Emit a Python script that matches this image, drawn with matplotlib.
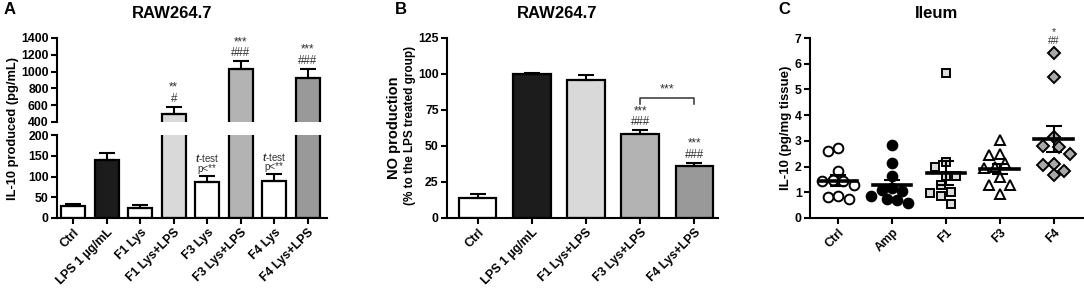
import numpy as np
import matplotlib
matplotlib.use("Agg")
import matplotlib.pyplot as plt

plt.rcParams["font.family"] = ["Liberation Sans", "DejaVu Sans"]
plt.rcParams["font.weight"] = "bold"
plt.rcParams["axes.labelweight"] = "bold"
plt.rcParams["axes.linewidth"] = 1.5
plt.rcParams["mathtext.fontset"] = "custom"
plt.rcParams["mathtext.rm"] = "Liberation Sans"
plt.rcParams["mathtext.it"] = "Liberation Sans:italic"

# Panel A - IL-10 in RAW264.7
a_groups = ["Ctrl", "LPS 1 \u00b5g/mL", "F1 Lys", "F1 Lys+LPS",
            "F3 Lys", "F3 Lys+LPS", "F4 Lys", "F4 Lys+LPS"]
a_means = [28, 140, 25, 495, 87, 1030, 90, 920]
a_errs = [5, 17, 6, 85, 15, 95, 15, 115]
a_colors = ["white", "#1c1c1c", "white", "#d9d9d9",
            "white", "#b3b3b3", "white", "#999999"]
a_marks = ["", "", "", "**\n#", "$\\it{t}$-test\np<**", "***\n###",
           "$\\it{t}$-test\np<**", "***\n###"]

# Panel B - NO production
b_groups = ["Ctrl", "LPS 1 \u00b5g/mL", "F1 Lys+LPS", "F3 Lys+LPS", "F4 Lys+LPS"]
b_means = [14, 100, 96, 58, 36]
b_errs = [3, 0.6, 3, 2.8, 2.2]
b_colors = ["white", "#1c1c1c", "#d9d9d9", "#b3b3b3", "#999999"]
b_marks = ["", "", "", "***\n###", "***\n###"]
b_bracket = (3, 4, 83)

# Panel C - Ileum IL-10
c_groups = ["Ctrl", "Amp", "F1", "F3", "F4"]
c_values = [
    [2.72, 2.62, 1.83, 1.48, 1.45, 1.42, 1.3, 0.86, 0.74, 0.83],
    [2.82, 2.15, 1.63, 1.15, 1.05, 1.1, 0.86, 0.75, 0.7, 0.6],
    [5.62, 2.18, 2.0, 1.63, 1.63, 1.28, 1.0, 0.97, 0.86, 0.54],
    [3.03, 2.5, 2.45, 2.13, 1.97, 1.95, 1.6, 1.28, 1.28, 0.93],
    [6.42, 5.48, 3.14, 2.8, 2.78, 2.48, 2.1, 2.08, 1.84, 1.67],
]
c_means = [1.45, 1.27, 1.75, 1.9, 3.07]
c_sems = [0.22, 0.22, 0.45, 0.2, 0.5]
c_marks = ["", "", "", "", "*\n##"]
c_markers = ["o", "o", "s", "^", "D"]
c_faces = ["white", "black", "#dcdcdc", "white", "#a8a8a8"]
c_sizes = [7.0, 7.0, 6.3, 7.0, 6.3]

TXT = "#333333"
PT = 0.72  # points per pixel at dpi 100


def style(ax):
    ax.spines["top"].set_visible(False)
    ax.spines["right"].set_visible(False)
    ax.tick_params(direction="out", length=4.5, width=1.5, labelsize=8.8, pad=1.5)


def draw_bars(ax, means, errs, colors, width):
    x = np.arange(len(means))
    ax.bar(x, means, width=width, color=colors, edgecolor="black",
           linewidth=1.6, zorder=2)
    ax.errorbar(x, means, yerr=[np.zeros(len(errs)), errs], fmt="none",
                ecolor="black", elinewidth=1.5, capsize=5.5, capthick=1.5,
                zorder=3)


def above(ax, x, y, text, off_px=2, size=7.5):
    # significance marks stacked above an error bar
    ax.annotate(text, xy=(x, y), xytext=(0, off_px * PT), textcoords="offset points",
                ha="center", va="bottom", fontsize=size, color=TXT,
                fontweight="normal", linespacing=0.9, multialignment="center",
                annotation_clip=False)


def swarm(vals, d):
    # simple beeswarm in pixel units
    placed, offs = [], []
    for v in vals:
        best = None
        for k in range(0, 30):
            for s in ([0] if k == 0 else [-1, 1]):
                o = s * k * d * 0.5
                if all(np.hypot(o - po, v - pv) >= d * 0.98 for po, pv in placed):
                    best = o
                    break
            if best is not None:
                break
        placed.append((best, v))
        offs.append(best)
    return np.array(offs)


fig = plt.figure(figsize=(10.84, 2.96), dpi=100)

# ---------------- Panel A (broken axis)
axt = fig.add_axes([57 / 1084, 174 / 296, 270 / 1084, 84 / 296])
axb = fig.add_axes([57 / 1084, 78 / 296, 270 / 1084, 83 / 296])
for ax in (axt, axb):
    style(ax)
    draw_bars(ax, a_means, a_errs, a_colors, 0.71)
    ax.set_xlim(-0.48, 7.57)
axt.set_ylim(400, 1400)
axt.set_yticks(range(400, 1401, 200))
axt.spines["bottom"].set_visible(False)
axt.set_xticks([])
axb.set_ylim(0, 200)
axb.set_yticks(range(0, 201, 50))
axb.set_xticks(np.arange(len(a_groups)))
axb.set_xticklabels(a_groups, rotation=45, ha="right", rotation_mode="anchor")
for i, mark in enumerate(a_marks):
    if mark:
        top = a_means[i] + a_errs[i]
        ax = axt if top > 200 else axb
        above(ax, i, top, mark, 2, 7 if "test" in mark else 8.3)
fig.text(13 / 1084, 1 - 128 / 296, "IL-10 produced (pg/mL)", rotation=90,
         ha="center", va="center", fontsize=9.3)
fig.text(172 / 1084, 1 - 13 / 296, "RAW264.7", ha="center", va="center", fontsize=12)
fig.text(4 / 1084, 1 - 10 / 296, "A", ha="left", va="center", fontsize=12)

# ---------------- Panel B
ax = fig.add_axes([447 / 1084, 78 / 296, 271 / 1084, 180 / 296])
style(ax)
draw_bars(ax, b_means, b_errs, b_colors, 0.69)
ax.set_xlim(-0.57, 4.44)
ax.set_ylim(0, 125)
ax.set_yticks(range(0, 126, 25))
ax.set_xticks(np.arange(len(b_groups)))
ax.set_xticklabels(b_groups, rotation=45, ha="right", rotation_mode="anchor")
for i, mark in enumerate(b_marks):
    if mark:
        above(ax, i, b_means[i] + b_errs[i], mark, 2, 8.3)
bx0, bx1, by = b_bracket
ax.plot([bx0, bx0, bx1, bx1], [by - 3.5, by, by, by - 3.5], color="#333333", lw=1.1)
ax.text((bx0 + bx1) / 2, by + 2, "***", ha="center", va="bottom", fontsize=9,
        color=TXT, fontweight="normal")
fig.text(394 / 1084, 1 - 128 / 296, "NO production", rotation=90,
         ha="center", va="center", fontsize=10.5)
fig.text(410 / 1084, 1 - 125 / 296, "(% to the LPS treated group)", rotation=90,
         ha="center", va="center", fontsize=8.5)
fig.text(557 / 1084, 1 - 13 / 296, "RAW264.7", ha="center", va="center", fontsize=12)
fig.text(395 / 1084, 1 - 10 / 296, "B", ha="left", va="center", fontsize=12)

# ---------------- Panel C
ax = fig.add_axes([810 / 1084, 78 / 296, 273 / 1084, 180 / 296])
style(ax)
ax.set_xlim(-0.52, 4.54)
ax.set_ylim(0, 7)
ax.set_yticks(range(0, 8))
ax.set_xticks(np.arange(len(c_groups)))
ax.set_xticklabels(c_groups, rotation=45, ha="right", rotation_mode="anchor")
px_x, px_y = 54.0, 180 / 7
for i, vals in enumerate(c_values):
    vals = np.array(vals)
    order = np.argsort(-vals)
    offs = np.zeros(len(vals))
    offs[order] = swarm(vals[order] * px_y, 10.5)
    ax.plot(i + offs / px_x, vals, linestyle="none", marker=c_markers[i],
            markersize=c_sizes[i], markerfacecolor=c_faces[i],
            markeredgecolor="black", markeredgewidth=1.4, zorder=3, clip_on=False)
    ax.plot([i - 0.36, i + 0.36], [c_means[i]] * 2, color="black", lw=2.6, zorder=4)
    ax.errorbar(i, c_means[i], yerr=c_sems[i], fmt="none", ecolor="black",
                elinewidth=1.5, capsize=5.5, capthick=1.5, zorder=4)
    if c_marks[i]:
        above(ax, i, max(vals), c_marks[i], 7, 7.5)
fig.text(786 / 1084, 1 - 128 / 296, "IL-10 (pg/mg tissue)", rotation=90,
         ha="center", va="center", fontsize=9.5)
fig.text(937 / 1084, 1 - 13 / 296, "Ileum", ha="center", va="center", fontsize=12)
fig.text(778 / 1084, 1 - 10 / 296, "C", ha="left", va="center", fontsize=12)

fig.savefig("out.png", dpi=100)
